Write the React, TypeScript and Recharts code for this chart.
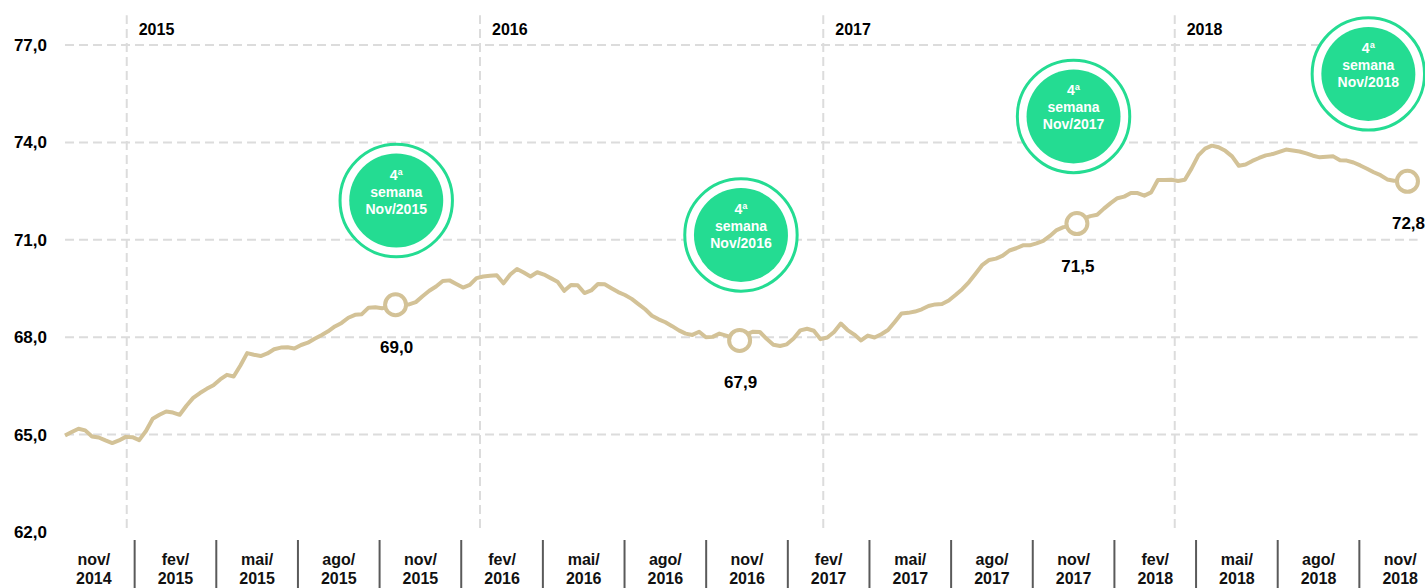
import React from 'react';
import { LineChart, Line, XAxis, YAxis, ReferenceLine, ReferenceDot } from 'recharts';

// Weekly index values, nov/2014 -> 4th week nov/2018
const values: number[] = [
  64.97, 65.08, 65.18, 65.13, 64.94, 64.91, 64.82, 64.74, 64.82, 64.93,
  64.92, 64.83, 65.11, 65.49, 65.61, 65.71, 65.68, 65.61, 65.89, 66.13,
  66.28, 66.41, 66.52, 66.7, 66.84, 66.79, 67.13, 67.51, 67.46, 67.42,
  67.5, 67.63, 67.68, 67.69, 67.65, 67.76, 67.83, 67.95, 68.06, 68.18,
  68.33, 68.44, 68.6, 68.69, 68.71, 68.91, 68.92, 68.89, 68.95, 69.0,
  69.01, 69.01, 69.08, 69.26, 69.43, 69.56, 69.73, 69.75, 69.64, 69.53,
  69.61, 69.82, 69.87, 69.89, 69.91, 69.66, 69.93, 70.1, 69.99, 69.87,
  70.0, 69.93, 69.82, 69.71, 69.43, 69.61, 69.6, 69.36, 69.44, 69.64,
  69.63, 69.51, 69.39, 69.3, 69.18, 69.02, 68.86, 68.66, 68.55, 68.46,
  68.34, 68.21, 68.11, 68.07, 68.17, 68.0, 68.01, 68.11, 68.05, 67.98,
  67.9, 68.09, 68.17, 68.16, 67.95, 67.77, 67.73, 67.78, 67.96, 68.21,
  68.26, 68.2, 67.94, 67.99, 68.16, 68.42, 68.22, 68.08, 67.9, 68.05,
  67.99, 68.09, 68.22, 68.47, 68.73, 68.75, 68.79, 68.86, 68.96, 69.01,
  69.02, 69.13, 69.3, 69.48, 69.7, 69.96, 70.23, 70.38, 70.42, 70.51,
  70.67, 70.74, 70.83, 70.83, 70.89, 70.97, 71.12, 71.3, 71.39, 71.42,
  71.5, 71.66, 71.73, 71.77, 71.96, 72.13, 72.28, 72.33, 72.44, 72.44,
  72.36, 72.46, 72.84, 72.84, 72.85, 72.81, 72.85, 73.2, 73.6, 73.81,
  73.9, 73.85, 73.74, 73.57, 73.28, 73.32, 73.43, 73.52, 73.6, 73.64,
  73.71, 73.78, 73.75, 73.72, 73.66, 73.59, 73.54, 73.56, 73.57, 73.45,
  73.44, 73.38, 73.29, 73.19, 73.08, 72.99, 72.86, 72.82, 72.82, 72.8,
];

const periodTicks = [
  'nov/2014', 'fev/2015', 'mai/2015', 'ago/2015', 'nov/2015', 'fev/2016', 'mai/2016', 'ago/2016',
  'nov/2016', 'fev/2017', 'mai/2017', 'ago/2017', 'nov/2017', 'fev/2018', 'mai/2018', 'ago/2018', 'nov/2018',
];
const yTicks = [62, 65, 68, 71, 74, 77];
const gridLevels = [65, 68, 71, 74, 77];
const yearNames = ['2015', '2016', '2017', '2018'];
const yearStartWeeks = [9.15, 61.52, 112.4, 164.5];
const markedWeeks = [49, 100, 150, 199];
const badgeTexts = ['Nov/2015', 'Nov/2016', 'Nov/2017', 'Nov/2018'];
const badgeWeeks = [49.1, 100.2, 149.5, 193.2];
const badgeLevels = [72.21, 71.15, 74.8, 76.11];

const data = values.map((v, i) => ({ week: i, value: v, marked: markedWeeks.includes(i) }));

const FONT = '"Liberation Sans", Arial, Helvetica, sans-serif';
const LINE = '#D3C297';
const GREEN = '#24DC92';
const GRID = '#DCDCDC';

const X0 = -1.78;
const X1 = 203.97;
const HALF = (X1 - X0) / periodTicks.length / 2;

const fmt = (v: number) => v.toFixed(1).replace('.', ',');

// half-band steps: odd steps carry a period label, even steps a separator
const axisTicks: number[] = [];
for (let h = 1; h < periodTicks.length * 2; h++) axisTicks.push(X0 + h * HALF);

const PeriodTick = (props: any) => {
  const { x, y, payload } = props;
  const h = Math.round((payload.value - X0) / HALF);
  if (h % 2 === 0) {
    return <line x1={x} x2={x} y1={y + 8} y2={y + 60} stroke="#5A5A5A" strokeWidth={2} />;
  }
  const label = periodTicks[(h - 1) / 2];
  const k = label.indexOf('/') + 1;
  return (
    <g>
      <text x={x} y={y + 33} textAnchor="middle" fontFamily={FONT} fontWeight={700} fontSize={16} fill="#111">
        {label.slice(0, k)}
      </text>
      <text x={x} y={y + 52} textAnchor="middle" fontFamily={FONT} fontWeight={700} fontSize={16} fill="#111">
        {label.slice(k)}
      </text>
    </g>
  );
};

const renderDot = (props: any) => {
  const { cx, cy, payload, index } = props;
  if (!payload || !payload.marked) return <g key={`d-${index}`} />;
  return (
    <g key={`d-${index}`}>
      <circle cx={cx} cy={cy} r={10.5} fill="#fff" stroke={LINE} strokeWidth={4} />
      <text x={cx + 1} y={cy + 48} textAnchor="middle" fontFamily={FONT} fontWeight={700} fontSize={17} fill="#000">
        {fmt(payload.value)}
      </text>
    </g>
  );
};

const Badge = ({ cx, cy, text }: { cx: number; cy: number; text: string }) => (
  <g>
    <circle cx={cx} cy={cy} r={56.2} fill="#fff" stroke={GREEN} strokeWidth={3} />
    <circle cx={cx} cy={cy} r={47} fill={GREEN} />
    <text textAnchor="middle" fontFamily={FONT} fontWeight={700} fontSize={14} fill="#fff">
      <tspan x={cx} y={cy - 21}>4ª</tspan>
      <tspan x={cx} y={cy - 4}>semana</tspan>
      <tspan x={cx} y={cy + 13}>{text}</tspan>
    </text>
  </g>
);

export default function App() {
  return (
    <div style={{ position: 'absolute', left: 0, top: 0, width: 1425, height: 588, overflow: 'hidden', background: '#fff' }}>
      <LineChart width={1441} height={588} data={data} margin={{ top: 45, right: 0, bottom: 0, left: 0 }}>
        <XAxis
          xAxisId="w"
          dataKey="week"
          type="number"
          domain={[X0, X1]}
          allowDataOverflow
          ticks={axisTicks}
          interval={0}
          height={56}
          axisLine={false}
          tickLine={false}
          tickSize={0}
          tickMargin={0}
          tick={<PeriodTick />}
        />
        <YAxis
          type="number"
          domain={[62, 77]}
          ticks={yTicks}
          interval={0}
          width={53}
          axisLine={false}
          tickLine={false}
          tickSize={0}
          tickMargin={6}
          tickFormatter={fmt}
          tick={{ fontSize: 17, fontWeight: 700, fill: '#000', fontFamily: FONT }}
        />
        {gridLevels.map((g) => (
          <ReferenceLine
            key={`g-${g}`}
            xAxisId="w"
            segment={[{ x: 0, y: g }, { x: 200.5, y: g }]}
            stroke={GRID}
            strokeWidth={2}
            strokeDasharray="9 5"
            ifOverflow="visible"
          />
        ))}
        {yearNames.map((name, k) => (
          <ReferenceLine
            key={`y-${name}`}
            xAxisId="w"
            segment={[{ x: yearStartWeeks[k], y: 62.12 }, { x: yearStartWeeks[k], y: 77.92 }]}
            stroke={GRID}
            strokeWidth={2}
            strokeDasharray="9 5"
            ifOverflow="visible"
            label={(p: any) => (
              <text x={p.viewBox.x + 12} y={p.viewBox.y + 20} fontFamily={FONT} fontWeight={700} fontSize={16} fill="#000">
                {name}
              </text>
            )}
          />
        ))}
        <Line
          xAxisId="w"
          dataKey="value"
          type="linear"
          stroke={LINE}
          strokeWidth={4}
          strokeLinejoin="round"
          dot={renderDot}
          activeDot={false}
          isAnimationActive={false}
        />
        {badgeTexts.map((t, k) => (
          <ReferenceDot
            key={`b-${t}`}
            xAxisId="w"
            x={badgeWeeks[k]}
            y={badgeLevels[k]}
            r={47}
            ifOverflow="visible"
            shape={(p: any) => <Badge cx={p.cx} cy={p.cy} text={t} />}
          />
        ))}
      </LineChart>
    </div>
  );
}
